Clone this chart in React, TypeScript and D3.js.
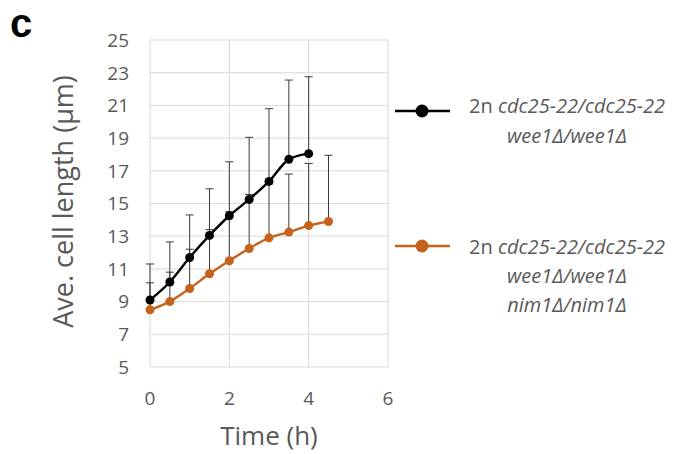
import React from "react";
import * as d3 from "d3";

const timesBlack = [0, 0.5, 1, 1.5, 2, 2.5, 3, 3.5, 4];
const meanBlack = [9.1, 10.2, 11.7, 13.05, 14.25, 15.25, 16.35, 17.7, 18.05];
const upperBlack = [11.3, 12.65, 14.3, 15.9, 17.55, 19.05, 20.8, 22.55, 22.75];

const timesOrange = [0, 0.5, 1, 1.5, 2, 2.5, 3, 3.5, 4, 4.5];
const meanOrange = [8.5, 9.0, 9.8, 10.7, 11.5, 12.25, 12.9, 13.25, 13.65, 13.9];
const upperOrange = [10.15, 10.8, 12.2, 13.4, 14.5, 15.55, 16.2, 16.8, 17.45, 17.95];

const xTicks = [0, 2, 4, 6];
const yTicks = [5, 7, 9, 11, 13, 15, 17, 19, 21, 23, 25];

const ORANGE = "#c5631d";
const GRAY = "#595959";
const FONT = "'Open Sans', 'Liberation Sans', sans-serif";

export default function App() {
  const x = d3.scaleLinear().domain([0, 6]).range([150, 388]);
  const y = d3.scaleLinear().domain([5, 25]).range([367, 40]);
  const line = d3
    .line<[number, number]>()
    .x((d) => x(d[0]))
    .y((d) => y(d[1]))
    .curve(d3.curveMonotoneX);

  const black: [number, number][] = timesBlack.map((t, i) => [t, meanBlack[i]]);
  const orange: [number, number][] = timesOrange.map((t, i) => [t, meanOrange[i]]);

  const errBars = (times: number[], means: number[], ups: number[], key: string) =>
    times.map((t, i) => (
      <g key={key + i} stroke="#3a3a3a" strokeWidth={1}>
        <line x1={x(t)} x2={x(t)} y1={y(means[i])} y2={y(ups[i])} />
        <line x1={x(t) - 4} x2={x(t) + 4} y1={y(ups[i])} y2={y(ups[i])} />
      </g>
    ));

  return (
    <svg
      width={674}
      height={454}
      style={{ position: "absolute", left: 0, top: 0, background: "#fff" }}
      fontFamily={FONT}
    >
      <rect width={674} height={454} fill="#fff" />
      <text x={10} y={36.5} fontFamily="'Liberation Sans', Arial, sans-serif" fontWeight="bold" fontSize={40} fill="#000">
        c
      </text>
      {/* gridlines */}
      {yTicks.map((v) => (
        <line key={"gy" + v} x1={x(0)} x2={x(6)} y1={y(v)} y2={y(v)} stroke="#d9d9d9" strokeWidth={1} />
      ))}
      {xTicks.map((v) => (
        <line key={"gx" + v} x1={x(v)} x2={x(v)} y1={y(5)} y2={y(25)} stroke="#d9d9d9" strokeWidth={1} />
      ))}
      {/* tick labels */}
      {yTicks.map((v) => (
        <text key={"ty" + v} x={129} y={y(v)} dy="0.36em" textAnchor="end" fontSize={19} fill={GRAY}>
          {v}
        </text>
      ))}
      {xTicks.map((v) => (
        <text key={"tx" + v} x={x(v)} y={405} textAnchor="middle" fontSize={19} fill={GRAY}>
          {v}
        </text>
      ))}
      {/* axis titles */}
      <text
        transform={`translate(73,${y(15) - 2}) rotate(-90)`}
        textAnchor="middle"
        fontSize={27}
        fill={GRAY}
      >
        Ave. cell length (µm)
      </text>
      <text x={269} y={445} textAnchor="middle" fontSize={26} fill={GRAY}>
        Time (h)
      </text>
      {/* error bars */}
      {errBars(timesOrange, meanOrange, upperOrange, "eo")}
      {errBars(timesBlack, meanBlack, upperBlack, "eb")}
      {/* lines */}
      <path d={line(orange) || ""} fill="none" stroke={ORANGE} strokeWidth={2.4} />
      <path d={line(black) || ""} fill="none" stroke="#000" strokeWidth={2.4} />
      {orange.map((d, i) => (
        <circle key={"co" + i} cx={x(d[0])} cy={y(d[1])} r={4.5} fill={ORANGE} />
      ))}
      {black.map((d, i) => (
        <circle key={"cb" + i} cx={x(d[0])} cy={y(d[1])} r={4.5} fill="#000" />
      ))}
      {/* legend */}
      <g>
        <line x1={395} x2={450} y1={111} y2={111} stroke="#000" strokeWidth={2.5} />
        <circle cx={422} cy={111} r={6.5} fill="#000" />
        <text x={567} y={113} textAnchor="middle" fontSize={20} fill={GRAY}>
          2n <tspan fontStyle="italic">cdc25-22/cdc25-22</tspan>
        </text>
        <text x={567} y={143} textAnchor="middle" fontSize={20} fill={GRAY} fontStyle="italic">
          wee1Δ/wee1Δ
        </text>
        <line x1={395} x2={450} y1={246} y2={246} stroke={ORANGE} strokeWidth={2.5} />
        <circle cx={422} cy={246} r={6.5} fill={ORANGE} />
        <text x={567} y={254} textAnchor="middle" fontSize={20} fill={GRAY}>
          2n <tspan fontStyle="italic">cdc25-22/cdc25-22</tspan>
        </text>
        <text x={567} y={283} textAnchor="middle" fontSize={20} fill={GRAY} fontStyle="italic">
          wee1Δ/wee1Δ
        </text>
        <text x={567} y={312} textAnchor="middle" fontSize={20} fill={GRAY} fontStyle="italic">
          nim1Δ/nim1Δ
        </text>
      </g>
    </svg>
  );
}
